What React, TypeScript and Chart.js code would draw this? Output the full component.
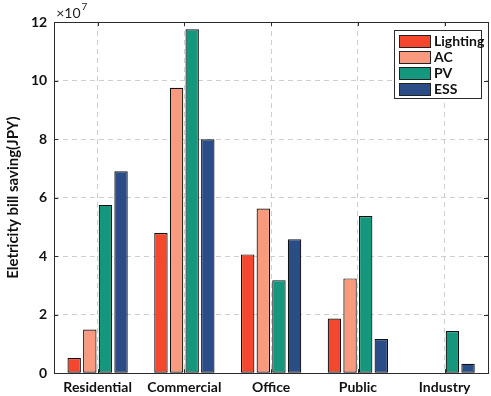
import React, { useEffect, useRef } from "react";
import { Chart, registerables } from "chart.js";

Chart.register(...registerables);

const categories = ["Residential", "Commercial", "Office", "Public", "Industry"];
const seriesNames = ["Lighting", "AC", "PV", "ESS"];
const lighting = [0.52, 4.79, 4.06, 1.87, 0];
const ac = [1.49, 9.75, 5.63, 3.24, 0];
const pv = [5.75, 11.75, 3.18, 5.37, 1.44];
const ess = [6.9, 7.99, 4.58, 1.17, 0.32];
const colors = ["#F4472D", "#F99A7E", "#15977E", "#2A4C87"];
const yTicks = [0, 2, 4, 6, 8, 10, 12];

const FONT = "Lato";

const boxPlugin = {
  id: "boxPlugin",
  afterDraw(chart: any) {
    const { ctx, chartArea } = chart;
    const { left, right, top, bottom } = chartArea;
    const ys = chart.scales.y;
    const xs = chart.scales.x;
    ctx.save();
    ctx.strokeStyle = "#2b2b2b";
    ctx.lineWidth = 1;
    ctx.setLineDash([]);
    ctx.strokeRect(Math.round(left) + 0.5, Math.round(top) + 0.5, Math.round(right - left), Math.round(bottom - top));
    ctx.beginPath();
    yTicks.forEach((v) => {
      const y = Math.round(ys.getPixelForValue(v)) + 0.5;
      ctx.moveTo(left, y);
      ctx.lineTo(left + 4, y);
      ctx.moveTo(right, y);
      ctx.lineTo(right - 4, y);
    });
    categories.forEach((_, i) => {
      const x = Math.round(xs.getPixelForValue(i)) + 0.5;
      ctx.moveTo(x, bottom);
      ctx.lineTo(x, bottom - 4);
      ctx.moveTo(x, top);
      ctx.lineTo(x, top + 4);
    });
    ctx.stroke();

    // exponent label
    ctx.fillStyle = "#222";
    ctx.textBaseline = "alphabetic";
    ctx.textAlign = "left";
    ctx.font = `14px ${FONT}`;
    ctx.fillText("×10", left + 2, top - 4);
    const w = ctx.measureText("×10").width;
    ctx.font = `10px ${FONT}`;
    ctx.fillText("7", left + 2 + w + 1, top - 12);

    // legend
    const lx = right - 94;
    const ly = top + 8;
    const lw = 87;
    const lh = 68;
    ctx.fillStyle = "#ffffff";
    ctx.fillRect(lx, ly, lw, lh);
    ctx.strokeStyle = "#2b2b2b";
    ctx.strokeRect(Math.round(lx) + 0.5, Math.round(ly) + 0.5, lw, lh);
    chart.data.datasets.forEach((ds: any, i: number) => {
      const by = ly + 5 + i * 16;
      ctx.fillStyle = ds.backgroundColor;
      ctx.fillRect(lx + 5, by, 31, 12);
      ctx.strokeStyle = "#222";
      ctx.strokeRect(Math.round(lx + 5) + 0.5, Math.round(by) + 0.5, 31, 12);
      ctx.fillStyle = "#111";
      ctx.font = `bold 14px ${FONT}`;
      ctx.textBaseline = "middle";
      ctx.fillText(ds.label, lx + 40, by + 6.5);
    });
    ctx.restore();
  },
};

export default function App() {
  const ref = useRef<HTMLCanvasElement>(null);
  useEffect(() => {
    document.body.style.margin = "0";
    const data = [lighting, ac, pv, ess];
    const chart = new Chart(ref.current!, {
      type: "bar",
      data: {
        labels: categories,
        datasets: seriesNames.map((n, i) => ({
          label: n,
          data: data[i],
          backgroundColor: colors[i],
          borderColor: "#111111",
          borderWidth: 1.2,
          borderSkipped: false,
          categoryPercentage: 0.72,
          barPercentage: 0.86,
        })),
      },
      options: {
        animation: false,
        responsive: false,
        maintainAspectRatio: false,
        layout: { padding: { top: 22, right: 3, left: 4, bottom: -6 } },
        plugins: {
          legend: { display: false },
          tooltip: { enabled: false },
        },
        scales: {
          x: {
            grid: { display: true, offset: false, drawTicks: false, color: "#cfcfcf", lineWidth: 1 },
            border: { display: false, dash: [5, 4] },
            ticks: { color: "#111", font: { family: FONT, weight: "bold", size: 14 }, padding: 6 },
          },
          y: {
            min: 0,
            max: 12,
            grid: { drawTicks: false, color: "#cfcfcf", lineWidth: 1 },
            border: { display: false, dash: [5, 4] },
            ticks: {
              stepSize: 2,
              color: "#111",
              padding: 7,
              font: { family: FONT, weight: "bold", size: 14 },
            },
            title: {
              display: true,
              text: "Eletricity bill saving(JPY)",
              color: "#111",
              font: { family: FONT, weight: "bold", size: 15 },
              padding: { top: 0, bottom: 2 },
            },
          },
        },
      },
      plugins: [boxPlugin],
    });
    return () => chart.destroy();
  }, []);
  return (
    <div style={{ position: "absolute", left: 0, top: 0, width: 491, height: 396 }}>
      <canvas ref={ref} width={491} height={396} style={{ display: "block", width: 491, height: 396 }} />
    </div>
  );
}
